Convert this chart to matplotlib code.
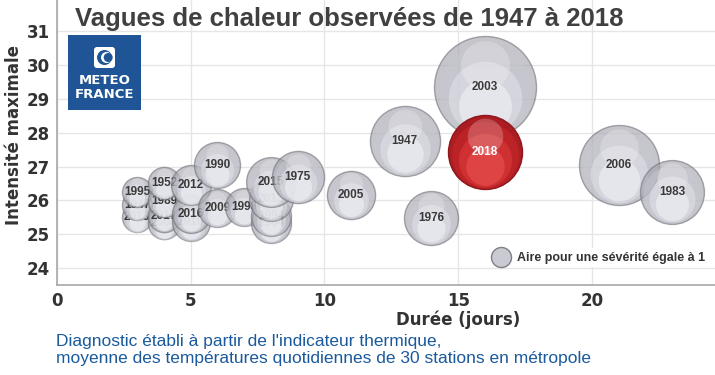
import matplotlib.pyplot as plt
import matplotlib.transforms as mtransforms
from matplotlib.patches import FancyBboxPatch, Circle
import numpy as np

# one entry per heat wave, in drawing order (2018 last, on top)
annees = ["2013", "1947", "1995",
          "2004", "2017", "1989", "1952",
          "2010", "2016", "2012",
          "2009", "1990",
          "1998",
          "1964", "1994", "2013", "2015",
          "1975", "2005", "1947", "1976", "2003",
          "2006", "1983", "2018"]
duree = [3, 3, 3,
         4, 4, 4, 4,
         5, 5, 5,
         6, 6,
         7,
         8, 8, 8, 8,
         9, 11, 13, 14, 16,
         21, 23, 16]
intensite = [25.50, 25.85, 26.25,
             25.32, 25.55, 25.98, 26.51,
             25.36, 25.60, 26.45,
             25.77, 27.04,
             25.80,
             25.33, 25.54, 26.04, 26.54,
             26.69, 26.16, 27.75, 25.48, 29.35,
             27.04, 26.25, 27.43]
severite = [2.25, 2.25, 2.25,
            2.6, 2.6, 2.6, 2.6,
            3.6, 3.6, 4.0,
            3.6, 5.3,
            3.6,
            4.0, 4.0, 4.8, 6.2,
            6.8, 5.8, 12.3, 7.3, 26.0,
            16.0, 10.2, 13.7]

titre = "Vagues de chaleur observées de 1947 à 2018"
note = ("Diagnostic établi à partir de l'indicateur thermique,\n"
        "moyenne des températures quotidiennes de 30 stations en métropole")

DPI = 100
fig = plt.figure(figsize=(7.15, 3.75), dpi=DPI)
ax = fig.add_axes([57 / 715, 1 - 285 / 375, 1 - 57 / 715, 285 / 375])

ax.set_xlim(0, 24.6)
ax.set_ylim(23.5, 31.92)
ax.set_xticks([0, 5, 10, 15, 20])
ax.set_yticks(range(24, 32))
ax.grid(True, color="#e6e6e6", lw=1)
ax.set_axisbelow(True)
for s in ["top", "right"]:
    ax.spines[s].set_visible(False)
for s in ["left", "bottom"]:
    ax.spines[s].set_color("#a8a8a8")
    ax.spines[s].set_linewidth(1.2)
ax.tick_params(length=0, pad=5, labelsize=12, labelcolor="#333333")
for lab in ax.get_xticklabels() + ax.get_yticklabels():
    lab.set_fontweight("bold")

ax.set_xlabel("Durée (jours)", fontsize=12, fontweight="bold", color="#333333")
ax.xaxis.set_label_coords((458 - 57) / 658, -0.09)
ax.set_ylabel("Intensité maximale", fontsize=12, fontweight="bold", color="#333333")
ax.yaxis.set_label_coords(-0.052, 0.525)


def shifted(dy_px):
    # move a layer up/down by some pixels, keeping the data position
    return ax.transData + mtransforms.ScaledTranslation(0, dy_px / DPI, fig.dpi_scale_trans)


def bulle(x, y, sev, z, rouge=False):
    r = 10 * np.sqrt(sev)          # radius in pixels, area ~ severity
    s_full = (2 * r * 72 / DPI) ** 2
    if rouge:
        cols = ["#a8161b", "#c9272b", "#dc3a3a", "#ea5252", "#ffffff"]
        edge, a0, a1 = "#8c1418", 0.97, 0.6
    else:
        cols = ["#a2a2ac", "#c8c8d2", "#e4e4ed", "#f6f6fb", "#ffffff"]
        edge, a0, a1 = "#74747c", 0.62, 0.5
    ax.scatter([x], [y], s=s_full, c=cols[0], edgecolors=edge, linewidths=1,
               alpha=a0, zorder=z)
    for k, (f, d) in enumerate([(0.9, -0.08), (0.72, -0.22), (0.52, -0.38)]):
        ax.scatter([x], [y], s=s_full * f ** 2, c=cols[k + 1], linewidths=0,
                   alpha=a1, zorder=z + 0.1 * (k + 1), transform=shifted(d * r))
    ax.scatter([x], [y], s=s_full * 0.48 ** 2, c=cols[4], linewidths=0,
               alpha=0.22, zorder=z + 0.4, transform=shifted(0.44 * r))


for i, (a, x, y, sv) in enumerate(zip(annees, duree, intensite, severite)):
    rouge = (a == "2018")
    bulle(x, y, sv, 3 + i, rouge)
    ax.text(x, y, a, ha="center", va="center", fontsize=8.5, fontweight="bold",
            family="Liberation Sans", color="white" if rouge else "#3a3a3a",
            zorder=3.5 + i)

# legend: bubble for severity 1
h = ax.scatter([], [], s=(2 * 10 * 72 / DPI) ** 2, c="#cacad2", edgecolors="#7e7e86",
               linewidths=1)
leg = ax.legend([h], ["Aire pour une sévérité égale à 1"], loc="lower right",
                bbox_to_anchor=(1.0, 0.04), frameon=True, framealpha=1,
                edgecolor="none", facecolor="white", handletextpad=0.3,
                borderpad=0.3, prop={"family": "Liberation Sans", "weight": "bold", "size": 9})
leg.set_zorder(50)
for t in leg.get_texts():
    t.set_color("#333333")

# title
fig.text(75 / 715, 1 - 19 / 375, titre, ha="left", va="center", fontsize=18.5,
         fontweight="bold", family=["Liberation Sans Narrow", "Liberation Sans"],
         color="#404040")

# Météo-France logo
lax = fig.add_axes([68 / 715, 1 - 110 / 375, 73 / 715, 75 / 375])
lax.set_xlim(0, 73)
lax.set_ylim(0, 75)
lax.set_facecolor("#1f5596")
for s in lax.spines.values():
    s.set_visible(False)
lax.set_xticks([])
lax.set_yticks([])
lax.add_patch(FancyBboxPatch((26, 42), 21, 21, boxstyle="round,pad=0,rounding_size=3",
                             fc="white", ec="none"))
lax.add_patch(Circle((36.5, 52.5), 7.5, fc="#1f5596", ec="none"))
lax.add_patch(Circle((38.5, 52.5), 5.5, fc="white", ec="none"))
lax.add_patch(Circle((40.2, 52.5), 4.5, fc="#1f5596", ec="none"))
lax.text(36.5, 30, "METEO", ha="center", va="center", color="white",
         fontsize=9.5, fontweight="bold")
lax.text(36.5, 16, "FRANCE", ha="center", va="center", color="white",
         fontsize=9.5, fontweight="bold")

# note
fig.text(56 / 715, 1 - 350 / 375, note, ha="left", va="center", fontsize=12.5,
         family="Liberation Sans", color="#1a5a9c", linespacing=1.1)

fig.savefig("out.png", dpi=DPI)
